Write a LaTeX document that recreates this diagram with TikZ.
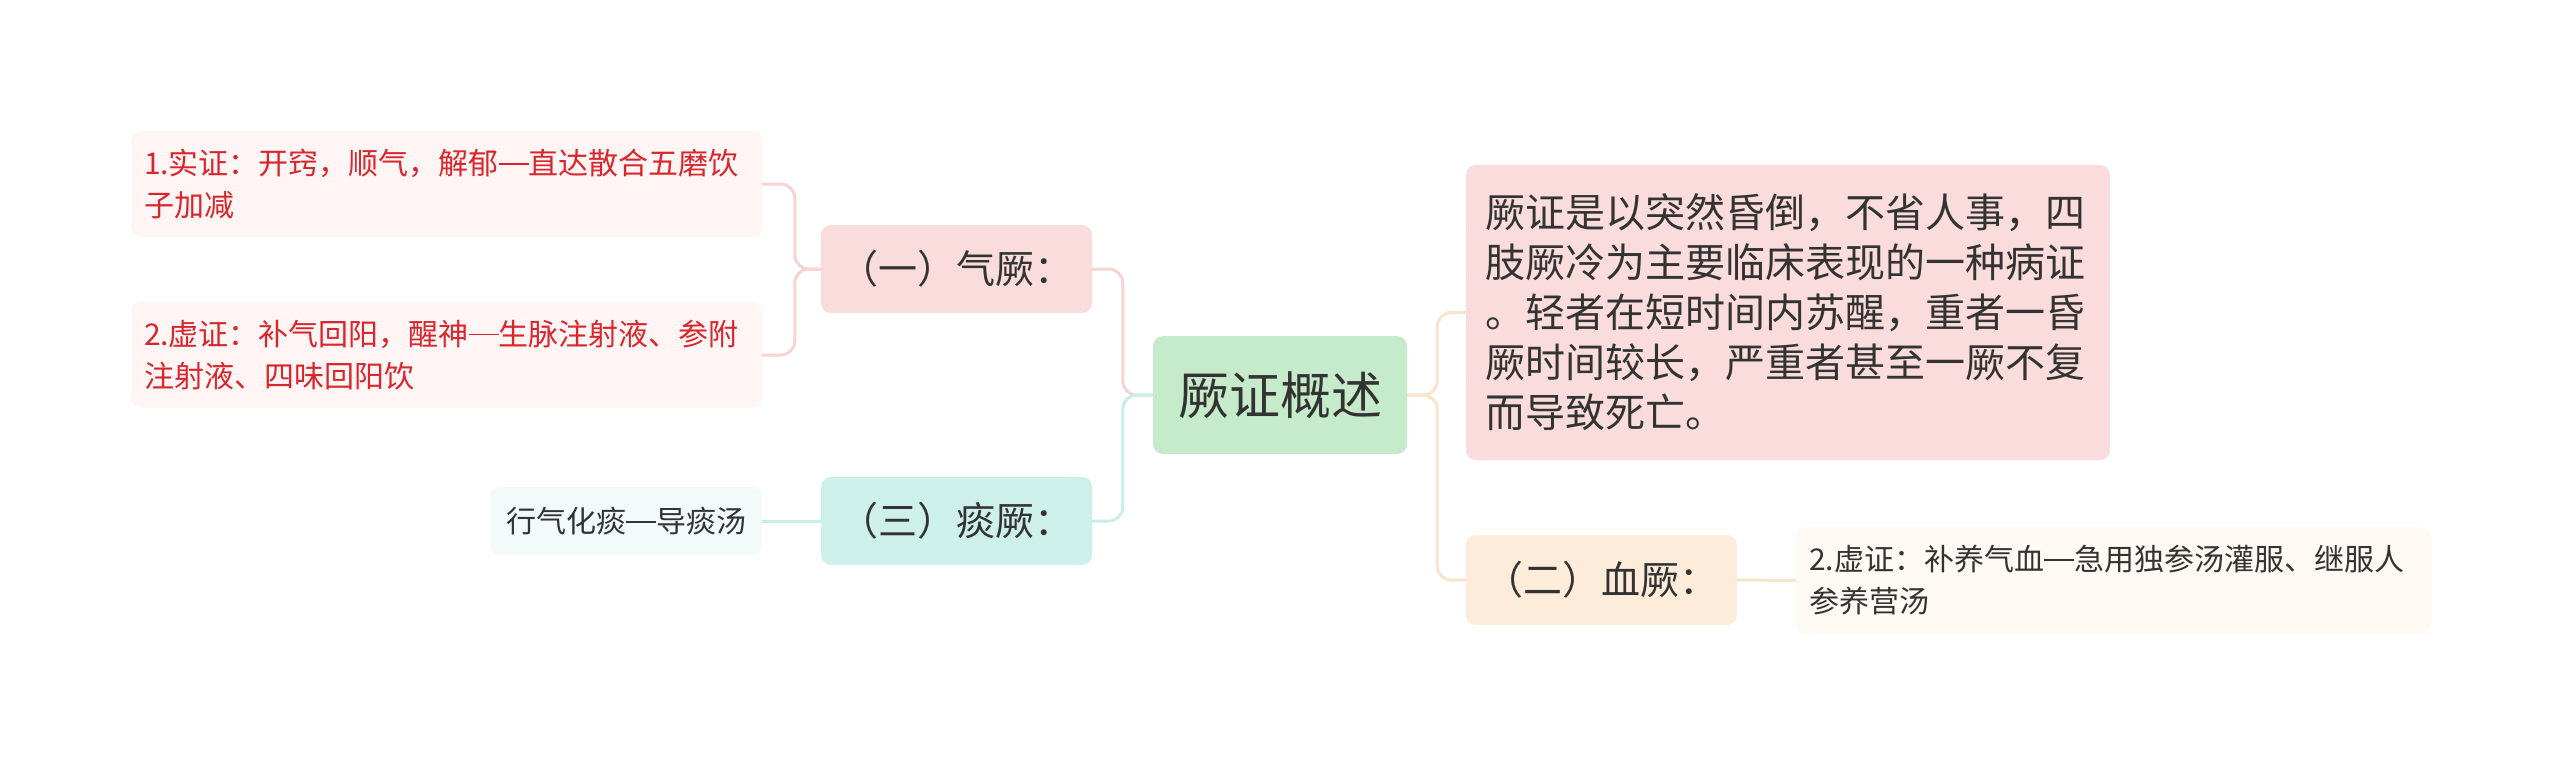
\documentclass[tikz,border=0pt]{standalone}
\usepackage{fontspec}
\setmainfont{Noto Sans CJK SC}
\definecolor{txt}{HTML}{333333}
\definecolor{redtxt}{HTML}{D9262C}
\definecolor{cgreen}{HTML}{C6EBCA}
\definecolor{cpink}{HTML}{FADCDC}
\definecolor{cmint}{HTML}{CDF0EA}
\definecolor{cpeach}{HTML}{FDECD9}
\definecolor{lpink}{HTML}{FFF5F5}
\definecolor{lmint}{HTML}{F2FBF9}
\definecolor{lpeach}{HTML}{FFFAF3}
\definecolor{kpink}{HTML}{F7D3D3}
\definecolor{kmint}{HTML}{C8EEE6}
\definecolor{kpeach}{HTML}{FBE4CC}
\newcommand\cdash{\rule[0.33em]{1em}{0.06em}}
\tikzset{
  box/.style={rectangle, rounded corners=10pt, inner sep=0pt, text=txt},
  conn/.style={line width=3pt, rounded corners=14pt},
}
\begin{document}
\begin{tikzpicture}[x=1pt,y=-1pt]
\useasboundingbox[fill=white] (0,0) rectangle (2560,765);
% nodes
\node[box, fill=cgreen, minimum width=254pt, minimum height=118pt, font=\fontsize{51}{58}\selectfont] (c) at (1280,395) {厥证概述};
\node[box, fill=cpink, minimum width=271pt, minimum height=88pt, font=\fontsize{39}{46}\selectfont] (q1) at (956.5,269) {（一）气厥：};
\node[box, fill=cmint, minimum width=271pt, minimum height=88pt, font=\fontsize{39}{46}\selectfont] (q3) at (956.5,521) {（三）痰厥：};
\node[box, fill=cpeach, minimum width=271pt, minimum height=90pt, font=\fontsize{39}{46}\selectfont] (q2) at (1601.5,580) {（二）血厥：};
\node[box, fill=lpink, text=redtxt, minimum width=631pt, minimum height=106pt, text width=605pt, align=left, font=\fontsize{30}{42}\selectfont] (l1) at (446.5,184) {1.实证：开窍，顺气，解郁\cdash 直达散合五磨饮\\子加减};
\node[box, fill=lpink, text=redtxt, minimum width=631pt, minimum height=106pt, text width=605pt, align=left, font=\fontsize{30}{42}\selectfont] (l2) at (446.5,355) {2.虚证：补气回阳，醒神\cdash 生脉注射液、参附\\注射液、四味回阳饮};
\node[box, fill=lmint, minimum width=272pt, minimum height=68pt, font=\fontsize{30}{38}\selectfont] (l3) at (626,521) {行气化痰\cdash 导痰汤};
\node[box, fill=cpink, minimum width=644pt, minimum height=295pt, text width=606pt, align=left, font=\fontsize{40}{50}\selectfont] (big) at (1788,312.5) {厥证是以突然昏倒，不省人事，四\\肢厥冷为主要临床表现的一种病证\\。轻者在短时间内苏醒，重者一昏\\厥时间较长，严重者甚至一厥不复\\而导致死亡。};
\node[box, fill=lpeach, minimum width=634pt, minimum height=107pt, text width=608pt, align=left, font=\fontsize{30}{42}\selectfont] (r1) at (2113,580.5) {2.虚证：补养气血\cdash 急用独参汤灌服、继服人\\参养营汤};
% connectors
\draw[conn, kpink] (c.west) -- ++(-30,0) |- (q1.east);
\draw[conn, kmint] (c.west) -- ++(-30,0) |- (q3.east);
\draw[conn, kpink] (q1.west) -- ++(-26,0) |- (l1.east);
\draw[conn, kpink] (q1.west) -- ++(-26,0) |- (l2.east);
\draw[conn, kmint] (q3.west) -- (l3.east);
\draw[conn, kpeach] (c.east) -- ++(30,0) |- (big.west);
\draw[conn, kpeach] (c.east) -- ++(30,0) |- (q2.west);
\draw[conn, kpeach] (q2.east) -- (r1.west);
\end{tikzpicture}
\end{document}
